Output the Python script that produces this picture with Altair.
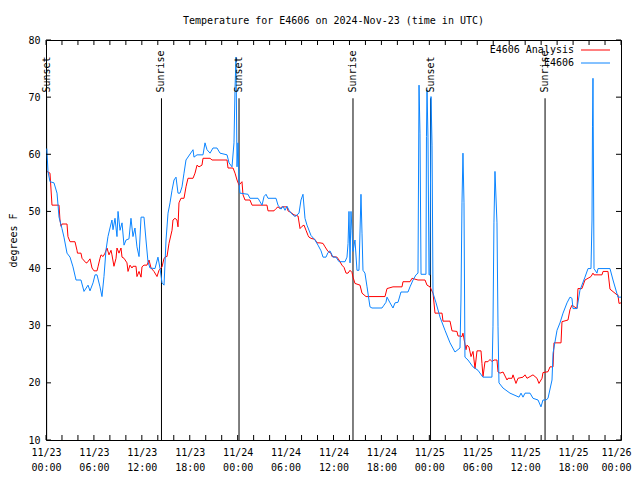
import altair as alt
import pandas as pd

title_text = "Temperature for E4606 on 2024-Nov-23 (time in UTC)"
y_title = "degrees F"
series_names = ["E4606 Analysis", "E4606"]
series_colors = ["#ff0000", "#0a84ff"]
FONT = "DejaVu Sans Mono"

# hours after 2024-11-23 00:00 UTC, temperature in F
analysis = [
    (0.13,57),(0.50,56.7),(0.75,51.1),(1.63,51.1),(1.75,48.5),(1.88,47.4),(2.00,47.8),(2.63,47.8),(2.75,45.6),(3.01,44.7),
    (3.63,44.7),(3.88,43.2),(3.94,42.7),(4.38,42.7),(4.51,41.8),(5.01,41),(5.13,41),(5.51,41.7),(5.76,40.1),(6.01,39.6),
    (6.39,39.6),(6.51,40.3),(6.76,41.8),(6.89,42.4),(7.14,42.1),(7.39,42.7),(7.64,43.6),(7.89,42.4),(8.14,43.2),(8.26,42.4),
    (8.51,40.4),(8.77,41.8),(8.89,43.6),(9.14,42.7),(9.39,43.6),(9.52,42),(9.77,41.8),(10.14,41),(10.27,39.5),(10.52,40.6),
    (10.77,40.1),(10.89,40.4),(11.27,40.4),(11.39,38.6),(11.65,39.5),(11.90,38.5),(12.02,40.3),(12.27,40.6),(12.65,40.6),(12.90,41.5),
    (13.15,40.1),(13.52,39.5),(13.90,38.6),(14.15,39.7),(14.53,40.3),(14.78,41.8),(15.03,42.1),(15.15,42.1),(15.40,44.4),(15.78,46.7),
    (15.90,48.5),(16.15,48.8),(16.40,48.5),(16.53,47.3),(16.65,51.5),(16.90,52.3),(17.28,52.3),(17.53,54.3),(17.78,55.8),(18.41,55.8),
    (18.66,56.7),(18.91,58.1),(19.16,57.8),(19.53,58.1),(19.66,59.3),(20.54,59.3),(20.79,59),(22.67,59),(22.79,57.6),(23.42,57.6),
    (23.67,56.7),(23.92,55.5),(24.17,54.6),(24.54,55.2),(24.67,52.9),(24.92,52),(25.54,52),(25.80,51.1),(27.67,51.1),(27.80,50.1),
    (28.55,50.1),(28.80,50.5),(29.05,50.8),(29.30,50.5),(29.55,50.8),(30.18,50.8),(30.30,50.1),(30.68,49.8),(31.05,49.4),(31.56,49.2),
    (31.81,47),(32.06,47.4),(32.31,47.6),(32.56,46.7),(32.81,45.8),(32.93,45.5),(33.18,45.3),(33.68,45.1),(33.93,44.5),(34.31,44.5),
    (34.69,44.4),(34.94,43.8),(35.31,43),(35.69,42.7),(35.81,42.1),(36.44,42),(36.69,41.5),(37.06,40.6),(37.32,40.2),(37.57,39.2),
    (37.82,39.2),(38.07,39.7),(38.32,39.3),(38.44,38.5),(38.69,37.4),(39.32,37.1),(39.57,35.7),(40.07,35.1),(42.45,35.1),(42.70,36.5),
    (43.45,36.8),(44.58,36.8),(44.70,37.7),(45.58,37.7),(45.83,38.3),(46.58,38),(47.46,38),(47.71,37.1),(48.08,36.8),(48.46,35.7),
    (48.71,32.2),(49.59,32.2),(49.71,30.8),(50.59,30.8),(50.84,29.1),(51.46,29),(51.59,28.2),(51.84,28.2),(52.09,28.1),(52.21,28.7),
    (52.59,25.8),(52.71,26.6),(52.96,26.3),(53.22,24.6),(53.47,25.5),(53.72,22.5),(53.97,25.6),(54.47,25.6),(54.59,23.4),(54.72,21.1),
    (54.97,23.7),(55.34,23.7),(55.60,24.1),(55.85,23.7),(56.10,24),(56.47,24),(56.60,21.9),(56.85,21.7),(57.23,21.9),(57.73,20.5),
    (57.85,20.8),(58.35,20.8),(58.48,21.4),(58.85,19.9),(59.10,20.8),(59.73,21),(59.98,21.4),(60.23,20.8),(60.61,21.1),(60.98,21.4),
    (61.48,20.8),(61.73,19.9),(62.11,20.8),(62.23,21.8),(62.86,21.95),(63.11,22.8),(63.49,22.8),(63.61,27),(64.49,27),(64.61,30.7),
    (65.36,31),(65.61,32.8),(65.86,33.6),(66.49,33),(66.61,36.5),(67.11,36.5),(67.49,38),(67.87,38.3),(68.24,38.6),(68.49,39.2),
    (68.62,38.9),(69.62,38.9),(69.75,39.5),(70.37,39.5),(70.62,36.4),(71.50,35.4),(71.62,35.4),(71.75,33.9),(72.00,34),
]

observed = [
    (0.10,61),(0.25,57),(0.50,55.2),(1.00,55),(1.38,53.2),(1.63,49),(2.00,47),(2.25,45.5),(2.63,42.7),(3.01,42),
    (3.38,40.3),(3.76,38),(4.38,38),(4.76,36),(5.26,37.1),(5.51,36.1),(5.89,37.5),(6.14,38.9),(6.39,38.9),(6.76,36.8),
    (7.01,35.1),(7.26,38.6),(7.51,43.2),(7.76,45.6),(8.01,47.1),(8.26,48.5),(8.39,46.8),(8.64,48.8),(8.89,45.6),(9.02,50),
    (9.27,46.7),(9.52,48),(9.77,44.1),(10.02,45),(10.39,45.2),(10.64,48.8),(10.89,45.6),(11.14,47.1),(11.39,43.8),(11.65,42.1),
    (11.90,49),(12.27,49),(12.52,45),(12.77,41.2),(13.02,40.1),(13.65,40),(14.02,42),(14.28,40),(14.53,37.5),(14.78,37.1),
    (15.03,45),(15.28,49.7),(15.53,51.5),(15.78,53.7),(16.03,55.5),(16.28,56),(16.53,53.2),(16.78,53.2),(17.03,54.3),(17.28,56.7),
    (17.53,59),(18.41,60.8),(18.53,59.5),(18.91,59.9),(19.66,59.9),(19.91,62),(20.16,60.8),(20.54,60.2),(20.91,61.1),(21.41,61.1),
    (21.79,60.2),(22.67,59.9),(22.92,58.5),(23.29,57.8),(23.54,62),(23.67,71.5),(23.79,77),(23.92,57.8),(24.04,62),(24.17,55),
    (24.29,53.2),(25.29,53),(25.54,52.3),(26.55,52.3),(27.05,51.1),(27.30,52.6),(27.55,53),(27.80,52.3),(28.80,52.3),(29.05,51.1),
    (29.43,50.4),(29.68,50.9),(29.93,50.2),(30.18,50.9),(30.43,50.2),(30.68,49.7),(31.18,49.1),(31.68,49.7),(31.93,52),(32.18,53),
    (32.43,48.8),(32.68,47.6),(33.18,45.8),(33.68,45),(34.06,44.1),(34.44,43.1),(34.69,42),(35.06,42),(35.31,42.8),(35.56,43.1),
    (35.94,42),(36.31,42),(36.69,41.2),(37.44,41.2),(37.69,42),(37.82,44.4),(37.94,50),(38.07,41),(38.19,50),(38.32,46.7),
    (38.44,43),(38.69,45),(38.94,39.7),(39.19,39.7),(39.32,46.4),(39.44,53),(39.57,46.2),(39.69,39.7),(39.94,39.2),(40.20,36.8),
    (40.57,33.3),(40.82,33.1),(42.07,33.1),(42.32,33.6),(42.57,34.1),(42.70,35),(43.08,34),(43.45,33.1),(43.70,34),(44.08,34.1),
    (44.45,35.9),(45.33,35.9),(45.58,36.8),(45.96,38),(46.33,38.9),(46.58,39.2),(46.71,72.1),(46.83,63.7),(46.96,39),(47.58,39),
    (47.64,63.1),(47.71,71.3),(47.83,63),(47.96,38.9),(48.08,38.9),(48.21,70.1),(48.34,61.6),(48.46,35.7),(48.84,34),(49.34,31.5),
    (49.96,29.2),(50.59,27),(51.21,25.4),(51.84,26.1),(51.96,34.5),(52.09,51.5),(52.21,60.2),(52.34,51.5),(52.46,24.5),(52.84,24),
    (53.46,22.8),(54.09,22.2),(54.71,21),(55.84,21),(55.97,29.8),(56.09,48),(56.22,57),(56.47,48),(56.60,29.8),(56.72,20),
    (57.22,19.1),(58.10,18.2),(59.23,17.5),(59.48,18.2),(59.73,17.5),(59.98,18.2),(60.61,18.2),(60.98,17.3),(61.61,17),(61.98,15.8),
    (62.23,17),(62.61,17),(62.86,17.3),(63.36,20.5),(63.49,25.2),(63.99,29.2),(64.36,30.5),(64.74,32.2),(65.24,34),(65.61,35),
    (65.86,34.8),(65.99,33),(66.49,33),(66.86,36.2),(67.49,38.5),(67.87,40),(68.24,40),(68.37,48.5),(68.43,64.8),(68.49,73.3),
    (68.62,40),(68.99,39.2),(69.12,40),(70.62,40),(71.00,38),(71.62,35),(72.00,35),
]

sun_hours = [0.08, 14.46, 24.17, 38.44, 48.15, 62.49]
sun_labels = ["Sunset", "Sunrise", "Sunset", "Sunrise", "Sunset", "Sunrise"]
sun_line_top = 69.8
sun_label_base = 70.8

x_tick_hours = list(range(0, 73, 2))
x_label_hours = list(range(0, 73, 6))
y_ticks = list(range(10, 81, 10))

W, H = 575, 400

rows = []
for name, series in zip(series_names, [analysis, observed]):
    for i, (h, t) in enumerate(series):
        rows.append({"h": h, "t": t, "s": name, "i": i})
df = pd.DataFrame(rows)

xscale = alt.Scale(domain=[0, 72], nice=False, zero=False)
yscale = alt.Scale(domain=[10, 80], nice=False, zero=False)

label_expr = ("['11/' + (23 + floor(datum.value / 24)), "
              "(datum.value % 24 < 10 ? '0' : '') + (datum.value % 24) + ':00']")

x_axis = alt.Axis(values=x_label_hours, labelExpr=label_expr, ticks=False, domain=False, grid=False,
                  labelFont=FONT, labelFontSize=10, labelColor="black", labelPadding=7,
                  labelLineHeight=15, labelFlush=False, labelOverlap=False, title=None,
                  labelOffset={"condition": {"test": "datum.value >= 72", "value": -5}, "value": 0})
y_axis = alt.Axis(values=y_ticks, ticks=False, domain=False, grid=False,
                  labelFont=FONT, labelFontSize=10, labelColor="black", labelPadding=6,
                  title=y_title, titleFont=FONT, titleFontSize=10, titleFontWeight="normal",
                  titleColor="black", titlePadding=9)

lines = alt.Chart(df).mark_line(strokeWidth=1, clip=True).encode(
    x=alt.X("h:Q", scale=xscale, axis=x_axis),
    y=alt.Y("t:Q", scale=yscale, axis=y_axis),
    color=alt.Color("s:N", scale=alt.Scale(domain=series_names, range=series_colors), legend=None),
    order="i:Q",
)

sun_df = pd.DataFrame({"h": sun_hours, "label": sun_labels})
sun_rules = alt.Chart(sun_df).mark_rule(color="black", strokeWidth=1).encode(
    x="h:Q", y=alt.datum(sun_line_top), y2=alt.datum(10)
)
sun_text = alt.Chart(sun_df).mark_text(angle=270, align="left", baseline="middle",
                                       font=FONT, fontSize=10, color="black").encode(
    x="h:Q", y=alt.datum(sun_label_base), text="label:N"
)

xt = pd.DataFrame({"h": x_tick_hours})
yt = pd.DataFrame({"t": y_ticks})
tick_len = 5
xt_bottom = alt.Chart(xt).mark_rule(color="black").encode(x="h:Q", y=alt.value(H), y2=alt.value(H - tick_len))
xt_top = alt.Chart(xt).mark_rule(color="black").encode(x="h:Q", y=alt.value(0), y2=alt.value(tick_len))
yt_left = alt.Chart(yt).mark_rule(color="black").encode(y="t:Q", x=alt.value(0), x2=alt.value(tick_len))
yt_right = alt.Chart(yt).mark_rule(color="black").encode(y="t:Q", x=alt.value(W), x2=alt.value(W - tick_len))

legend_layers = []
for k, (name, col) in enumerate(zip(series_names, series_colors)):
    ld = pd.DataFrame({"s": [name]})
    ypos = 10 + 13 * k
    legend_layers.append(alt.Chart(ld).mark_text(align="right", baseline="middle", font=FONT,
                                                 fontSize=10, color="black").encode(
        x=alt.value(528), y=alt.value(ypos), text="s:N"))
    legend_layers.append(alt.Chart(ld).mark_rule(color=col, strokeWidth=1).encode(
        x=alt.value(535), x2=alt.value(564), y=alt.value(ypos)))

chart = alt.layer(
    sun_rules, lines, sun_text, xt_bottom, xt_top, yt_left, yt_right, *legend_layers
).properties(
    width=W, height=H,
    title=alt.TitleParams(text=title_text, font=FONT, fontSize=10, fontWeight="normal",
                          color="black", anchor="middle", offset=9),
    autosize=alt.AutoSizeParams(type="none"),
    padding={"left": 38, "top": 32, "right": 11, "bottom": 32},
    background="white",
).configure_view(stroke="black", strokeWidth=1)

chart.save("out.html", embed_options={"renderer": "svg", "actions": False})
